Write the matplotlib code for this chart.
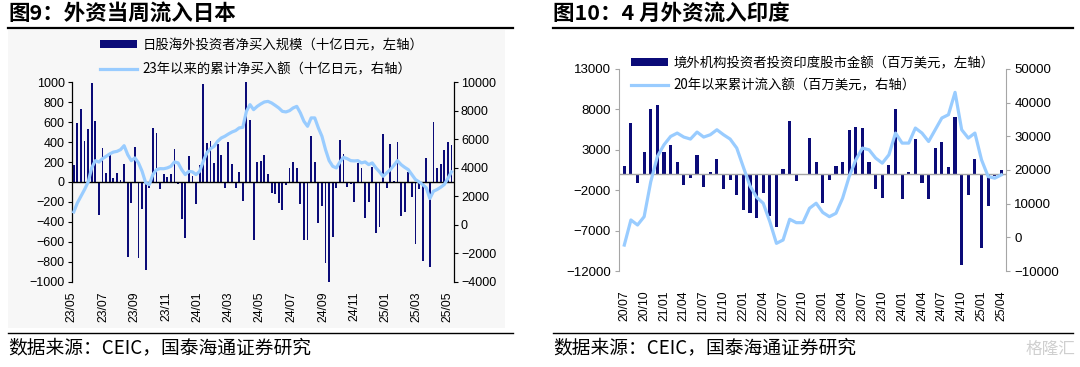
import matplotlib
matplotlib.use('Agg')
import matplotlib.pyplot as plt
import numpy as np
import pandas as pd
from matplotlib.patches import Rectangle
from matplotlib.lines import Line2D

plt.rcParams['font.family'] = ['Noto Sans CJK SC', 'DejaVu Sans']

# ---------------- data: Japan (weekly, 10 bn JPY) ----------------
jp_dates = pd.date_range('2023-05-05', periods=106, freq='7D')
jp_weekly = [
    174, 595, 729, 415, 535, 997, 612, -334, 344, 90, 281, 40, 90, 25, 180, -750,
    -210, 350, -760, -270, -880, -60, 540, 490, -70, 80,
    50, 80, 330, -20, -370, -560, 260, 60, -220, 170, 980, 390, 410, 190, 380, 270,
    -60, 400, 180, -60, 100, -190, 1000, 620, -580, 200,
    210, 270, 80, -110, -120, -210, -280, -30, 140, 200, 140, -220, -580, -580, 460,
    200, -410, -240, -810, -1010, -550, -60, 420, 280, -50, -20, -200,
    190, 140, -360, -200, 150, -510, -450, 480, -60, 380, 10, 400, -340, -300, 100,
    -150, -620, -70, -790, 240, -850, 600, 140, 180, 320, 400, 370,
]
jp_cum = [
    900, 1530, 2000, 2470, 3000, 4000, 4500, 4400, 4640, 4800, 4970, 5100, 5150,
    5270, 5550, 4920, 4500, 4690, 4340, 3750, 2940, 2820, 3520, 3870, 3940, 3930,
    3990, 4100, 4410, 4340, 3870, 3520, 3750, 3710, 3520, 3750, 4450, 5040, 5340,
    5500, 5860, 6090, 6210, 6370, 6510, 6610, 6800, 6840, 7960, 8430, 8080, 8310,
    8480, 8620, 8660, 8550, 8380, 8200, 7960, 7920, 8010, 8200, 8310, 7850, 7260,
    6910, 7500, 7500, 6800, 6210, 5270, 4500, 4100, 3990, 4410, 4730, 4640, 4500, 4480,
    4500, 4340, 4410, 4220, 4340, 3990, 3710, 3400, 3640, 3870, 4170, 4500, 4220,
    4030, 3870, 3520, 3170, 3010, 2820, 2590, 1840, 2350, 2470, 2630, 2820, 3240, 3710,
]
jp_tick_dates = pd.date_range('2023-05-01', '2025-05-01', freq='2MS')
jp_tick_labels = ['23/05', '23/07', '23/09', '23/11', '24/01', '24/03', '24/05',
                  '24/07', '24/09', '24/11', '25/01', '25/03', '25/05']

# ---------------- data: India (monthly, mn USD) ----------------
in_months = [f'{y % 100:02d}/{m:02d}' for y, m in
             [(2020 + (6 + k) // 12, (6 + k) % 12 + 1) for k in range(58)]]
in_monthly = [
    1000, 6300, -1100, 2700, 8100, 8500, 2700, 3550, 1500, -1300,
    -500, 2350, -1600, 300, 1850, -1850, -800, -2550, -4500, -4800,
    -5450, -2300, -5200, -6500, 650, 6500, -900, 0, 4500, 1450,
    -3600, -700, 1000, 1500, 5400, 5800, 5750, 1500, -1850, -3000,
    1150, 8000, -3100, 250, 4300, -1100, -3100, 3250, 4000, 900,
    7000, -11200, -2600, 1900, -9100, -4000, -200, 550,
]
in_cum = [
    -2300, 5150, 3660, 6130, 16500, 24000, 27470, 29940, 30950, 29760,
    29170, 31250, 29760, 30450, 31930, 30450, 29170, 26490, 20830, 15270,
    11900, 10120, 4640, -1790, -800, 5360, 4350, 4350, 8630, 10120,
    7380, 6130, 7140, 11610, 18050, 23000, 26490, 25980, 23510, 22020,
    24500, 30950, 27970, 27970, 32440, 30950, 28450, 31930, 35420, 36400,
    43040, 31930, 29460, 30950, 23000, 18050, 17560, 18550,
]

NAVY = '#0b0b78'
LBLUE = '#99ccff'
GRAY = '#a6a6a6'

fig = plt.figure(figsize=(10.8, 3.67), dpi=100)
W, H = 1080.0, 367.0

def fx(px):
    return px / W

def fy(py):
    return 1 - py / H

# background panel for left chart
bg = Rectangle((fx(8), fy(328)), fx(505) - fx(8), fy(30) - fy(328),
               transform=fig.transFigure, facecolor='#f7f7f7',
               edgecolor='none', zorder=-10)
fig.patches.append(bg)

# ---------------- left chart ----------------
ax1 = fig.add_axes([fx(71.7), fy(281.7), fx(454) - fx(71.7), fy(82.3) - fy(281.7)])
ax1.patch.set_alpha(0)
b1 = ax1.bar(jp_dates, jp_weekly, width=3.6, color=NAVY, zorder=2)
ax1.axhline(0, color='black', lw=1, zorder=3)
ax1.set_ylim(-1000, 1000)
ax1.set_yticks(np.arange(-1000, 1001, 200))
ax1.set_xlim(pd.Timestamp('2023-05-01'), pd.Timestamp('2025-05-14'))
ax1.set_xticks(jp_tick_dates)
ax1.set_xticklabels(jp_tick_labels, rotation=90, fontsize=8.8, family='Liberation Sans')
ax1.tick_params(axis='x', length=0, pad=7)
ax1.tick_params(axis='y', labelsize=9, length=3, width=0.8, direction='out', pad=2)
for lab in ax1.get_yticklabels():
    lab.set_family('Liberation Sans')
for s in ['top', 'bottom', 'right']:
    ax1.spines[s].set_visible(False)
ax1.spines['left'].set_linewidth(0.9)

ax1b = ax1.twinx()
ax1b.patch.set_alpha(0)
l1, = ax1b.plot(jp_dates, jp_cum, color=LBLUE, lw=2.3, solid_joinstyle='round')
ax1b.set_ylim(-4000, 10000)
ax1b.set_yticks(np.arange(-4000, 10001, 2000))
ax1b.tick_params(axis='y', labelsize=9, length=3, width=0.8, direction='out', pad=2)
for lab in ax1b.get_yticklabels():
    lab.set_family('Liberation Sans')
for s in ['top', 'bottom', 'left']:
    ax1b.spines[s].set_visible(False)
ax1b.spines['right'].set_linewidth(0.9)

fig.legend([b1, l1], ['日股海外投资者净买入规模（十亿日元，左轴）',
                      '23年以来的累计净买入额（十亿日元，右轴）'],
           loc='upper left', bbox_to_anchor=(fx(100), fy(38)), frameon=False,
           fontsize=9.6, handlelength=2.8, handleheight=0.55, handletextpad=0.4,
           labelspacing=0.75, borderpad=0, borderaxespad=0)

# ---------------- right chart ----------------
ax2 = fig.add_axes([fx(619), fy(271), fx(1006) - fx(619), fy(68.9) - fy(271)])
ax2.patch.set_alpha(0)
x2 = np.arange(len(in_monthly))
b2 = ax2.bar(x2, in_monthly, width=0.48, color=NAVY, zorder=2)
ax2.axhline(0, color=GRAY, lw=1, zorder=3)
ax2.set_ylim(-12000, 13000)
ax2.set_yticks(np.arange(-12000, 13001, 5000))
ax2.set_xlim(-0.8, 57.7)
ax2.set_xticks(x2[::3])
ax2.set_xticklabels(in_months[::3], rotation=90, fontsize=8.8, family='Liberation Sans')
ax2.tick_params(axis='x', length=0, pad=14)
ax2.tick_params(axis='y', labelsize=9.5, length=3, width=0.8, color=GRAY,
                direction='out', pad=3)
for lab in ax2.get_yticklabels():
    lab.set_family('Liberation Sans')
for s in ['top', 'bottom', 'right']:
    ax2.spines[s].set_visible(False)
ax2.spines['left'].set_color(GRAY)

ax2b = ax2.twinx()
ax2b.patch.set_alpha(0)
l2, = ax2b.plot(x2, in_cum, color=LBLUE, lw=2.3, solid_joinstyle='round')
ax2b.set_ylim(-10000, 50000)
ax2b.set_yticks(np.arange(-10000, 50001, 10000))
ax2b.tick_params(axis='y', labelsize=9.5, length=3, width=0.8, color=GRAY,
                 direction='out', pad=3)
for lab in ax2b.get_yticklabels():
    lab.set_family('Liberation Sans')
for s in ['top', 'bottom', 'left']:
    ax2b.spines[s].set_visible(False)
ax2b.spines['right'].set_color(GRAY)

fig.legend([b2, l2], ['境外机构投资者投资印度股市金额（百万美元，左轴）',
                      '20年以来累计流入额（百万美元，右轴）'],
           loc='upper left', bbox_to_anchor=(fx(631), fy(56)), frameon=False,
           fontsize=9.6, handlelength=2.8, handleheight=0.55, handletextpad=0.4,
           labelspacing=0.6, borderpad=0, borderaxespad=0)

# ---------------- titles, rules, sources ----------------
fig.text(fx(8), fy(13), '图9：外资当周流入日本', fontsize=15.5, weight='bold', va='center')
fig.text(fx(553), fy(13), '图10：4 月外资流入印度', fontsize=15.5, weight='bold', va='center')
for x0, x1 in [(8, 513), (553, 1073)]:
    fig.lines.append(Line2D([fx(x0), fx(x1)], [fy(28), fy(28)], transform=fig.transFigure,
                            color='black', lw=1.6))
    fig.lines.append(Line2D([fx(x0), fx(x1)], [fy(333), fy(333)], transform=fig.transFigure,
                            color='black', lw=1.0))
fig.text(fx(8), fy(348), '数据来源：CEIC，国泰海通证券研究', fontsize=13.5, va='center')
fig.text(fx(553), fy(348), '数据来源：CEIC，国泰海通证券研究', fontsize=13.5, va='center')
fig.text(fx(1075), fy(349), '格隆汇', fontsize=12, va='center', ha='right', color='#cfcfcf')

fig.savefig('out.png', dpi=100)
